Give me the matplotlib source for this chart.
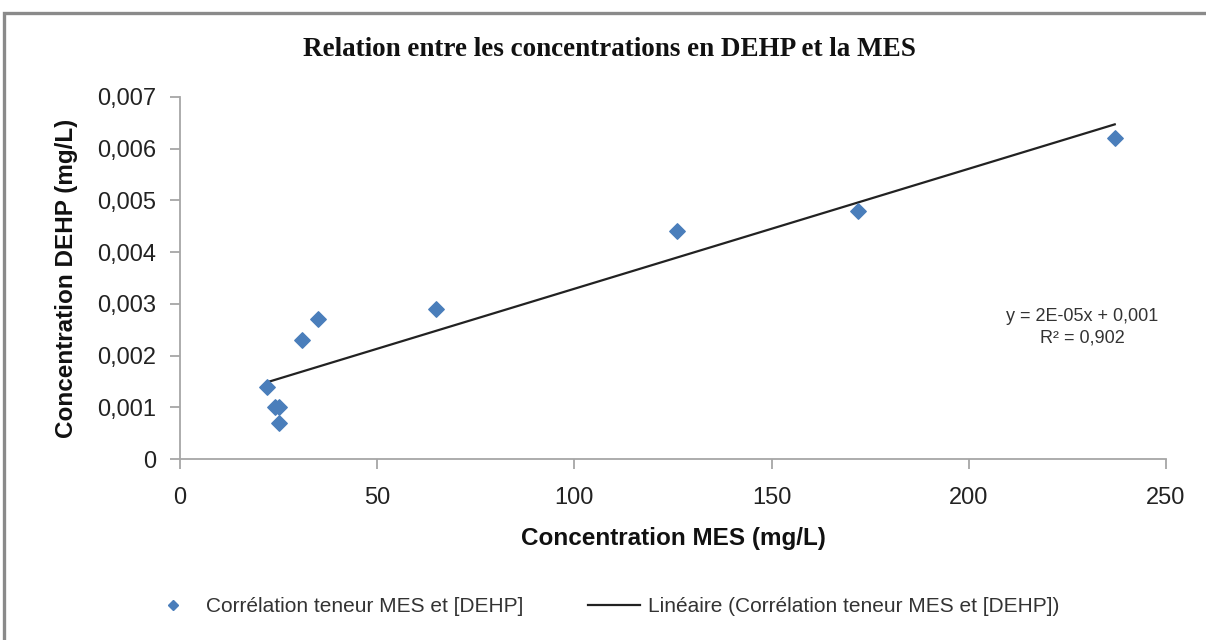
import numpy as np
import matplotlib.pyplot as plt
from matplotlib.lines import Line2D
from matplotlib.patches import Rectangle

# MES (mg/L) et DEHP (mg/L) mesurés
mes = [22, 24, 25, 25, 31, 35, 65, 126, 172, 237]
dehp = [0.0014, 0.0010, 0.0010, 0.0007, 0.0023, 0.0027, 0.0029, 0.0044, 0.0048, 0.0062]

xticks = [0, 50, 100, 150, 200, 250]
yticks = [0, 0.001, 0.002, 0.003, 0.004, 0.005, 0.006, 0.007]
ytick_labels = ['0', '0,001', '0,002', '0,003', '0,004', '0,005', '0,006', '0,007']

plt.rcParams['font.family'] = ['Liberation Sans', 'DejaVu Sans']

fig = plt.figure(figsize=(12.06, 6.4), dpi=100)
fig.patch.set_facecolor('white')

# cadre gris autour du graphique
fig.patches.append(Rectangle((4 / 1206, -0.05), 1.2, 1 - 13 / 640 + 0.05,
                             transform=fig.transFigure, fill=False,
                             edgecolor='#8a8a8a', linewidth=2.4))

ax = fig.add_axes([180 / 1206, 1 - 459 / 640, 986 / 1206, 362 / 640])

ax.scatter(mes, dehp, marker='D', s=62, color='#4a7ebb', zorder=3)

# courbe de tendance linéaire
a, b = np.polyfit(mes, dehp, 1)
xs = np.array([min(mes), max(mes)])
ax.plot(xs, a * xs + b, color='#222222', linewidth=1.6, zorder=2)

ax.set_xlim(0, 250)
ax.set_ylim(0, 0.007)
ax.set_xticks(xticks)
ax.set_xticklabels([str(t) for t in xticks])
ax.set_yticks(yticks)
ax.set_yticklabels(ytick_labels)

for s in ['top', 'right']:
    ax.spines[s].set_visible(False)
for s in ['left', 'bottom']:
    ax.spines[s].set_color('#a6a6a6')
    ax.spines[s].set_linewidth(1.3)
ax.tick_params(axis='both', colors='#a6a6a6', length=7, width=1.3,
               labelsize=17, labelcolor='#222222')
ax.tick_params(axis='x', pad=13)
ax.tick_params(axis='y', pad=10)

ax.set_xlabel('Concentration MES (mg/L)', fontsize=17.5, fontweight='bold',
              color='#111111', labelpad=13)
ax.set_ylabel('Concentration DEHP (mg/L)', fontsize=17.5, fontweight='bold',
              color='#111111', labelpad=14)

fig.text(0.505, 1 - 50 / 640, 'Relation entre les concentrations en DEHP et la MES',
         ha='center', va='center', fontsize=19.5, fontweight='bold',
         family='Liberation Serif', color='#111111')

fig.text(1082 / 1206, 1 - 327 / 640, 'y = 2E-05x + 0,001\nR² = 0,902',
         ha='center', va='center', fontsize=13, color='#333333',
         linespacing=1.35)

handles = [
    Line2D([], [], marker='D', linestyle='none', color='#4a7ebb', markersize=5),
    Line2D([], [], color='#222222', linewidth=1.6),
]
labels = ['Corrélation teneur MES et [DEHP]',
          'Linéaire (Corrélation teneur MES et [DEHP])']
fig.legend(handles, labels, loc='center', bbox_to_anchor=(0.5, 1 - 607 / 640),
           ncol=2, frameon=False, fontsize=15, columnspacing=3.1,
           handlelength=2.5, handletextpad=0.35, labelcolor='#333333')

fig.savefig('out.png', dpi=100, facecolor='white')
